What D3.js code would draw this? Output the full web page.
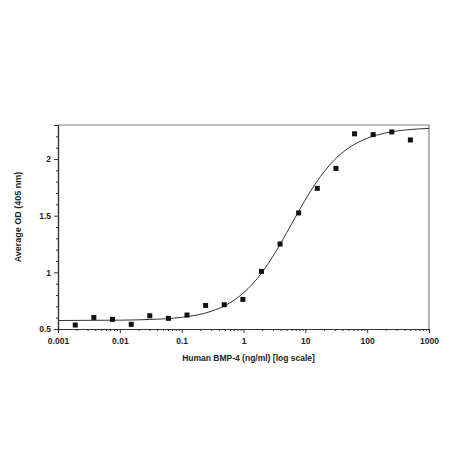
<!DOCTYPE html>
<head>
  <meta charset="utf-8" />
  <script src="https://d3js.org/d3.v7.min.js"></script>
  <style>
    body {
      margin: 0;
      background: #fff;
    }
    text {
      font-family: "Liberation Sans", Arial, sans-serif;
      font-weight: bold;
      fill: #222;
    }
  </style>
</head>

<body>
  <script>
    var width = 450,
      height = 450;

    // dilution series (ng/ml) and measured OD
    var conc = [0.0019, 0.0038, 0.0076, 0.0153, 0.0305, 0.061, 0.122, 0.244, 0.488, 0.977,
      1.95, 3.9, 7.8, 15.6, 31.25, 62.5, 125, 250, 500];
    var od = [0.535, 0.602, 0.585, 0.541, 0.617, 0.594, 0.623, 0.708, 0.714, 0.761,
      1.008, 1.25, 1.524, 1.741, 1.917, 2.222, 2.215, 2.239, 2.168];

    // fitted curve
    var fitX = [0.001, 0.01, 0.03, 0.1, 0.3, 0.5, 1, 2, 3, 5, 8, 12, 20, 30, 50, 100, 200, 500, 1000];
    var fitY = [0.575, 0.578, 0.584, 0.603, 0.656, 0.706, 0.819, 1.0, 1.143, 1.35, 1.549, 1.712,
      1.886, 1.996, 2.097, 2.183, 2.23, 2.26, 2.27];

    var xTicks = [0.001, 0.01, 0.1, 1, 10, 100, 1000];
    var xTickLabels = ["0.001", "0.01", "0.1", "1", "10", "100", "1000"];
    var yTicks = [0.5, 1, 1.5, 2];

    var mLeft = 58, mRight = 429, mTop = 125, mBottom = 329;

    var svg = d3.select("body").append("svg")
      .attr("width", width)
      .attr("height", height);

    var x = d3.scaleLog().domain([0.001, 1000]).range([mLeft, mRight]);
    var y = d3.scaleLinear().domain([0.5, 2.3]).range([mBottom, mTop]);

    // frame (top + right)
    svg.append("path")
      .attr("d", "M" + mLeft + "," + mTop + "H" + mRight + "V" + mBottom)
      .attr("fill", "none")
      .attr("stroke", "#808080")
      .attr("stroke-width", 1.2);

    // minor ticks
    var xMinor = [];
    for (var e = -3; e < 3; e++) {
      for (var m = 2; m <= 9; m++) xMinor.push(m * Math.pow(10, e));
    }
    var yMinor = d3.range(0.6, 2.31, 0.1).filter(function (v) {
      return Math.abs(v * 2 - Math.round(v * 2)) > 0.01;
    });

    var xAxis = svg.append("g").attr("transform", "translate(0," + mBottom + ")");
    xAxis.call(d3.axisBottom(x).tickValues(xMinor).tickSize(2).tickFormat(""));
    xAxis.append("g").call(d3.axisBottom(x).tickValues(xTicks).tickSize(4)
      .tickFormat(function (d, i) { return xTickLabels[i]; }));

    var yAxis = svg.append("g").attr("transform", "translate(" + mLeft + ",0)");
    yAxis.call(d3.axisLeft(y).tickValues(yMinor).tickSize(2).tickFormat(""));
    yAxis.append("g").call(d3.axisLeft(y).tickValues(yTicks).tickSize(4)
      .tickFormat(function (d) { return d; }));

    svg.selectAll(".domain").attr("stroke", "#333").attr("stroke-width", 1.2);
    svg.selectAll(".tick line").attr("stroke", "#333");
    svg.selectAll(".tick text")
      .attr("font-size", 8.5)
      .attr("font-family", "Liberation Sans, Arial, sans-serif")
      .attr("font-weight", "bold")
      .attr("fill", "#222");
    xAxis.selectAll(".tick text").attr("dy", "0.9em");

    // fitted curve
    var line = d3.line()
      .x(function (d, i) { return x(fitX[i]); })
      .y(function (d) { return y(d); })
      .curve(d3.curveMonotoneX);
    svg.append("path")
      .datum(fitY)
      .attr("d", line)
      .attr("fill", "none")
      .attr("stroke", "#333")
      .attr("stroke-width", 1);

    // points
    svg.selectAll("rect.pt")
      .data(od)
      .enter()
      .append("rect")
      .attr("class", "pt")
      .attr("x", function (d, i) { return x(conc[i]) - 2.5; })
      .attr("y", function (d) { return y(d) - 2.5; })
      .attr("width", 5)
      .attr("height", 5)
      .attr("fill", "#111");

    // axis titles
    svg.append("text")
      .attr("x", (mLeft + mRight) / 2 + 5)
      .attr("y", 361)
      .attr("text-anchor", "middle")
      .attr("font-size", 8.5)
      .text("Human BMP-4 (ng/ml) [log scale]");

    svg.append("text")
      .attr("transform", "translate(21,217) rotate(-90)")
      .attr("text-anchor", "middle")
      .attr("font-size", 9)
      .text("Average OD (405 nm)");
  </script>
</body>
